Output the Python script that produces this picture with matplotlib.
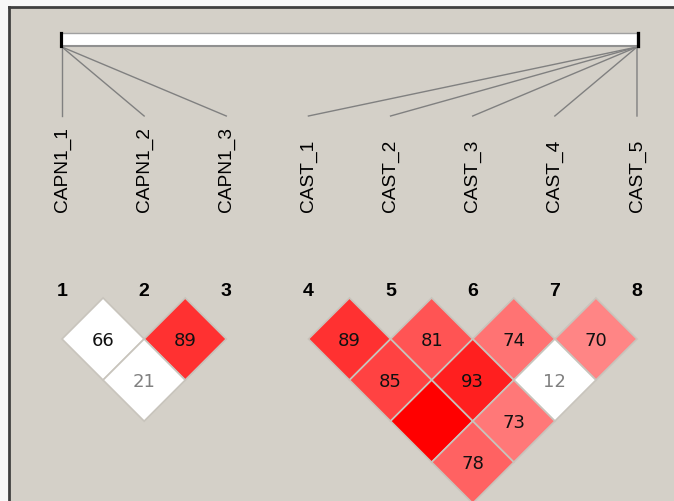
import matplotlib
matplotlib.use("Agg")
import matplotlib.pyplot as plt
from matplotlib.patches import Polygon, Rectangle

# ---- data ----
marker_names = ["CAPN1_1", "CAPN1_2", "CAPN1_3", "CAST_1", "CAST_2", "CAST_3", "CAST_4", "CAST_5"]
marker_numbers = [1, 2, 3, 4, 5, 6, 7, 8]
# relative physical position of each marker along the top bar (0 = left end, 1 = right end)
bar_fraction = [0.0, 0.0, 0.0, 1.0, 1.0, 1.0, 1.0, 1.0]
# pairwise D' (percent) : (marker i, marker j, D', strong LD flag)
pair_i = [1, 2, 1, 4, 5, 6, 7, 4, 5, 6, 4, 5, 4]
pair_j = [2, 3, 3, 5, 6, 7, 8, 6, 7, 8, 7, 8, 8]
dprime = [66, 89, 21, 89, 81, 74, 70, 85, 93, 12, 100, 73, 78]
strong = [False, True, False, True, True, True, True, True, True, False, True, True, True]
text_gray = [False, False, True, False, False, False, False, False, False, True, False, False, False]

# ---- layout ----
W, H = 674, 502
fig = plt.figure(figsize=(W / 100, H / 100), dpi=100)
fig.patch.set_facecolor("#F8F8F8")
ax = fig.add_axes([0, 0, 1, 1])
ax.set_xlim(0, W)
ax.set_ylim(H, 0)
ax.axis("off")

bg = "#D4D0C8"
ax.add_patch(Rectangle((9, 7.5), W, H, facecolor=bg, edgecolor="none", zorder=0))
ax.plot([9, 9], [7.5, H], color="#404040", lw=2, zorder=1)
ax.plot([9, W], [7.5, 7.5], color="#404040", lw=2, zorder=1)

x0, step = 62, 82.14
xs = [x0 + (n - 1) * step for n in marker_numbers]
bar_l, bar_r = 61, 638
bar_top, bar_bot = 34, 47

# top bar
ax.add_patch(Rectangle((bar_l, bar_top), bar_r - bar_l, bar_bot - bar_top,
                       facecolor="white", edgecolor="none", zorder=2))
ax.plot([bar_l, bar_r], [bar_top, bar_top], color="#A0A0A0", lw=1, zorder=3)
ax.plot([bar_l, bar_r], [bar_bot, bar_bot], color="#909090", lw=1.5, zorder=3)
for f in bar_fraction:
    bx = bar_l + f * (bar_r - bar_l)
    ax.plot([bx, bx], [bar_top, bar_bot], color="black", lw=2.2, zorder=4)

# connecting lines
line_end = 117
for f, x in zip(bar_fraction, xs):
    bx = bar_l + 1 + f * (bar_r - bar_l - 2)
    ax.plot([bx, x], [bar_bot + 1, line_end], color="#808080", lw=1, zorder=2)

# marker names
for name, x in zip(marker_names, xs):
    ax.text(x, 212, name, rotation=90, ha="center", va="bottom",
            fontsize=13.8, family="Liberation Sans", color="black", zorder=5)

# marker numbers
for n, x in zip(marker_numbers, xs):
    ax.text(x, 292, str(n), ha="center", va="center", fontsize=14,
            fontweight="bold", family="Liberation Sans", color="black", zorder=5)

# diamonds
half = step / 2
row1_y = 340
for i, j, d, s, g in zip(pair_i, pair_j, dprime, strong, text_gray):
    cx = (xs[i - 1] + xs[j - 1]) / 2
    cy = row1_y + (j - i - 1) * half
    if s:
        v = int((255 - 32) * 2 * (1 - d / 100))
        v = max(0, min(255, v))
        col = (1.0, v / 255, v / 255)
    else:
        col = "white"
    ax.add_patch(Polygon([(cx, cy - half), (cx + half, cy), (cx, cy + half), (cx - half, cy)],
                         closed=True, facecolor=col, edgecolor="#C8C4BC", lw=1.2, zorder=3))
    if d < 100:
        ax.text(cx, cy + 1, str(d), ha="center", va="center", fontsize=13,
                family="DejaVu Sans", color="#808080" if g else "#111111", zorder=5)

fig.savefig("out.png", dpi=100, facecolor=fig.get_facecolor())
